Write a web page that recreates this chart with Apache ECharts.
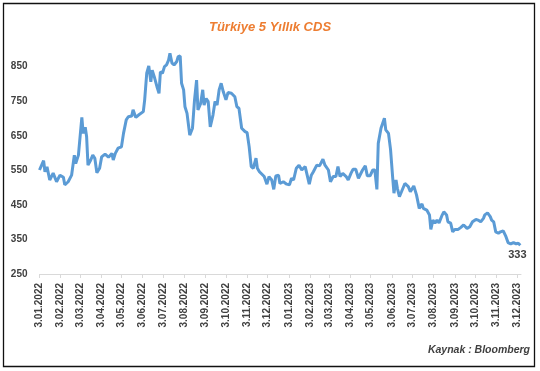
<!DOCTYPE html>
<html><head><meta charset="utf-8">
<script src="https://cdn.jsdelivr.net/npm/echarts@6/dist/echarts.min.js"></script>
<style>html,body{margin:0;padding:0;background:#fff}#c{width:540px;height:371px}</style>
</head><body><div id="c"></div>
<script>
const titleText = 'Türkiye 5 Yıllık CDS';
const sourceText = 'Kaynak : Bloomberg';
const dates = [
'2022-01-03','2022-01-09','2022-01-11','2022-01-14','2022-01-18','2022-01-23','2022-01-28','2022-02-02','2022-02-07','2022-02-09',
'2022-02-14','2022-02-19','2022-02-23','2022-02-25','2022-03-01','2022-03-03','2022-03-06','2022-03-08','2022-03-11','2022-03-13',
'2022-03-15','2022-03-19','2022-03-22','2022-03-25','2022-03-28','2022-04-01','2022-04-04','2022-04-09','2022-04-14','2022-04-19',
'2022-04-21','2022-04-24','2022-04-28','2022-05-03','2022-05-06','2022-05-10','2022-05-13','2022-05-18','2022-05-20','2022-05-24',
'2022-05-28','2022-05-30','2022-06-04','2022-06-06','2022-06-09','2022-06-12','2022-06-15','2022-06-17','2022-06-20','2022-06-24',
'2022-06-27','2022-06-29','2022-07-02','2022-07-05','2022-07-08','2022-07-11','2022-07-13','2022-07-16','2022-07-19','2022-07-23',
'2022-07-25','2022-07-28','2022-07-30','2022-08-02','2022-08-04','2022-08-07','2022-08-11','2022-08-15','2022-08-18','2022-08-21',
'2022-08-23','2022-08-27','2022-08-30','2022-09-01','2022-09-04','2022-09-07','2022-09-10','2022-09-12','2022-09-14','2022-09-17',
'2022-09-20','2022-09-23','2022-09-26','2022-09-29','2022-10-03','2022-10-06','2022-10-11','2022-10-16','2022-10-19','2022-10-22',
'2022-10-26','2022-10-31','2022-11-03','2022-11-06','2022-11-09','2022-11-12','2022-11-16','2022-11-18','2022-11-21','2022-11-24',
'2022-11-28','2022-12-02','2022-12-05','2022-12-09','2022-12-12','2022-12-15','2022-12-19','2022-12-21','2022-12-26','2022-12-31',
'2023-01-04','2023-01-07','2023-01-10','2023-01-14','2023-01-18','2023-01-22','2023-01-27','2023-01-29','2023-02-02','2023-02-05',
'2023-02-08','2023-02-13','2023-02-17','2023-02-22','2023-02-25','2023-03-02','2023-03-05','2023-03-09','2023-03-13','2023-03-16',
'2023-03-19','2023-03-23','2023-03-28','2023-03-31','2023-04-04','2023-04-07','2023-04-11','2023-04-15','2023-04-17','2023-04-21',
'2023-04-25','2023-04-28','2023-05-02','2023-05-06','2023-05-09','2023-05-12','2023-05-14','2023-05-18','2023-05-20','2023-05-23',
'2023-05-25','2023-05-29','2023-06-01','2023-06-04','2023-06-06','2023-06-09','2023-06-11','2023-06-14','2023-06-17','2023-06-22',
'2023-06-27','2023-06-30','2023-07-05','2023-07-09','2023-07-13','2023-07-17','2023-07-19','2023-07-24','2023-07-28','2023-07-30',
'2023-08-02','2023-08-05','2023-08-08','2023-08-11','2023-08-15','2023-08-18','2023-08-22','2023-08-24','2023-08-28','2023-08-31',
'2023-09-03','2023-09-08','2023-09-12','2023-09-16','2023-09-21','2023-09-25','2023-09-29','2023-10-04','2023-10-07','2023-10-11',
'2023-10-15','2023-10-17','2023-10-21','2023-10-25','2023-10-27','2023-10-30','2023-11-02','2023-11-06','2023-11-09','2023-11-13',
'2023-11-17','2023-11-20','2023-11-24','2023-11-28','2023-12-02','2023-12-05','2023-12-08'
];
const values = [
551,578,546,560,522,542,517,536,530,508,
517,536,594,570,594,638,703,657,675,647,
565,580,594,585,543,556,589,597,588,599,
580,599,614,618,657,696,705,707,725,703,
710,710,720,754,831,852,806,840,821,792,
773,835,831,850,855,869,889,860,855,865,
879,881,802,783,734,715,652,672,754,811,
725,744,783,739,758,749,676,672,710,749,
739,783,802,778,754,775,773,763,734,730,
672,662,659,618,561,556,585,556,546,540,
532,510,532,522,495,534,536,512,517,510,
508,527,522,556,565,551,561,556,510,536,
546,565,563,582,565,551,517,532,532,561,
532,541,532,522,541,553,553,527,522,551,
563,534,534,551,551,495,628,672,667,701,
667,657,610,532,484,522,498,474,488,512,
503,488,505,479,440,453,440,435,421,379,
406,397,406,398,418,430,421,401,397,372,
379,379,385,392,382,387,401,408,406,401,
411,421,427,416,406,401,372,368,372,375,
358,341,337,341,337,339,333
];
const xTickDates = ['2022-01-03','2022-02-03','2022-03-03','2022-04-03','2022-05-03','2022-06-03','2022-07-03','2022-08-03',
'2022-09-03','2022-10-03','2022-11-03','2022-12-03','2023-01-03','2023-02-03','2023-03-03','2023-04-03','2023-05-03',
'2023-06-03','2023-07-03','2023-08-03','2023-09-03','2023-10-03','2023-11-03','2023-12-03'];
const yTicks = [250,350,450,550,650,750,850];

function ts(s){const p=s.split('-').map(Number);return Date.UTC(p[0],p[1]-1,p[2]);}
function fmt(v){const d=new Date(v);return d.getUTCDate()+'.'+String(d.getUTCMonth()+1).padStart(2,'0')+'.'+d.getUTCFullYear();}

const seriesData = dates.map((d,i)=>[ts(d),values[i]]);
const last = seriesData[seriesData.length-1];
const FONT = '"Liberation Sans", Arial, sans-serif';

const chart = echarts.init(document.getElementById('c'), null, {renderer:'canvas'});
chart.setOption({
  animation:false,
  backgroundColor:'#fff',
  title:{text:titleText,left:'center',top:16,textStyle:{color:'#ED7D31',fontSize:13,fontWeight:'bold',fontStyle:'italic',fontFamily:FONT}},
  graphic:[
    {type:'rect',shape:{x:3.5,y:3.5,width:531,height:363},style:{fill:'none',stroke:'#111',lineWidth:1.3},silent:true},
    {type:'text',right:10,top:345,style:{text:sourceText,fill:'#404040',font:'italic bold 10.5px '+FONT}}
  ],
  grid:{left:39.5,right:19,top:49.4,bottom:97},
  xAxis:{type:'value',min:ts('2022-01-03'),max:ts('2023-12-09'),scale:true,
    axisLine:{show:true,lineStyle:{color:'#D9D9D9',width:1}},
    axisTick:{show:true,length:4,lineStyle:{color:'#D9D9D9'},customValues:xTickDates.map(ts)},
    splitLine:{show:false},
    axisLabel:{customValues:xTickDates.map(ts),rotate:90,margin:9,formatter:fmt,color:'#404040',fontSize:10,fontWeight:'bold',fontFamily:FONT,hideOverlap:false}
  },
  yAxis:{type:'value',min:250,max:900,
    axisLine:{show:false},axisTick:{show:false},splitLine:{show:false},
    axisLabel:{customValues:yTicks,margin:12,color:'#404040',fontSize:10,fontWeight:'bold',fontFamily:FONT}
  },
  series:[{type:'line',data:seriesData,showSymbol:false,lineStyle:{color:'#5B9BD5',width:3},itemStyle:{color:'#5B9BD5'},
    markPoint:{symbol:'circle',symbolSize:1,itemStyle:{color:'rgba(0,0,0,0)'},
      label:{show:true,position:'bottom',distance:4,offset:[-3,0],formatter:'{c}',color:'#404040',fontSize:11,fontWeight:'bold',fontFamily:FONT},
      data:[{coord:last,value:last[1]}]}
  }]
});
</script></body></html>
